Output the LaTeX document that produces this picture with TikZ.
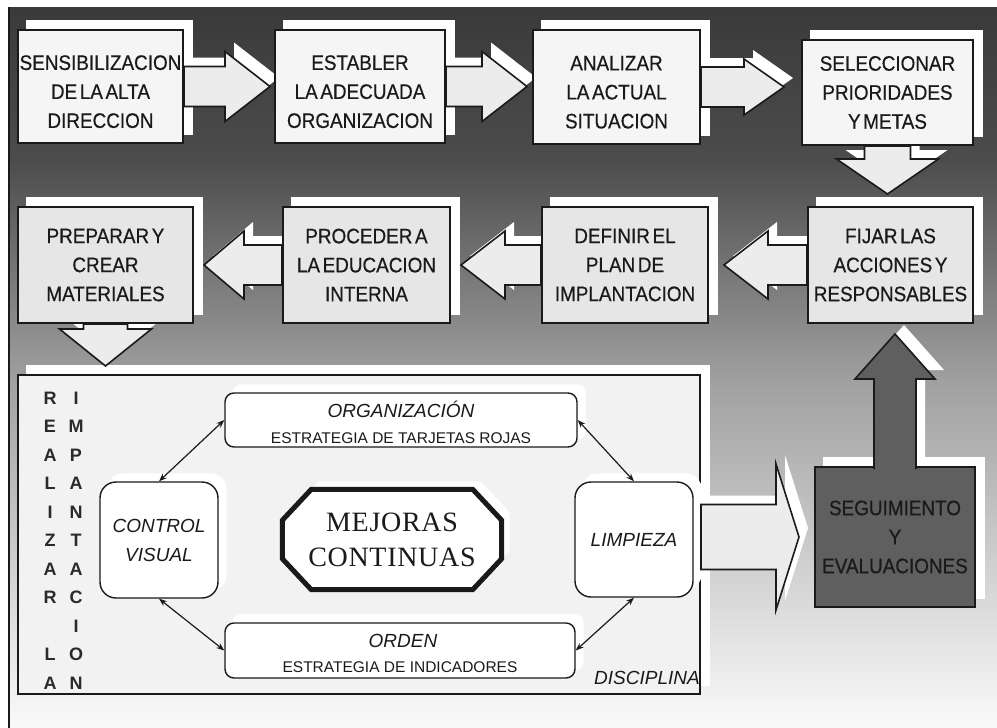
\documentclass[tikz,border=0pt]{standalone}
\usepackage{fontspec}
\setmainfont{Liberation Sans}
\newfontfamily\boxfont[FakeStretch=0.9,FakeBold=0.5,WordSpace=0.5]{Liberation Sans}
\newfontfamily\serfont[LetterSpace=2.5]{Liberation Serif}
\usetikzlibrary{calc,arrows.meta}

\pgfdeclarelayer{back}
\pgfdeclarelayer{shade}
\pgfdeclarelayer{panel}
\pgfdeclarelayer{halo}
\pgfsetlayers{back,shade,panel,halo,main}

\definecolor{ink}{HTML}{1A1A1A}
\definecolor{bgA}{HTML}{3A3A3A}
\definecolor{bgB}{HTML}{4C4C4C}
\definecolor{bgC}{HTML}{A0A0A0}
\definecolor{bgD}{HTML}{FAFAFA}
\definecolor{topfill}{HTML}{F5F5F5}
\definecolor{midfill}{HTML}{E6E6E6}
\definecolor{arrfill}{HTML}{ECECEC}
\definecolor{panelfill}{HTML}{F2F2F2}
\definecolor{darkfill}{HTML}{5F5F5F}
\definecolor{vink}{HTML}{2A2A2A}

% raises the first line so a three-line label sits a little lower in its box
\newcommand\firstlinepad{\rule{0pt}{25pt}}

\tikzset{
  topbox/.style={draw=ink, line width=2pt, fill=topfill, inner sep=0pt, align=center,
    text=ink, font=\boxfont\fontsize{21pt}{29pt}\selectfont},
  midbox/.style={topbox, fill=midfill},
  darkbox/.style={topbox, fill=darkfill},
  panelbox/.style={draw=ink, line width=2pt, fill=panelfill, inner sep=0pt},
  innerbox/.style={draw=ink, line width=1.4pt, fill=white, rounded corners=9pt, inner sep=0pt,
    align=center, text=ink, font=\fontsize{19pt}{29pt}\selectfont\itshape},
  itlabel/.style={anchor=base, inner sep=0pt, text=ink, font=\fontsize{19pt}{19pt}\selectfont\itshape},
  sublabel/.style={anchor=base, inner sep=0pt, text=ink, font=\fontsize{15.5pt}{15.5pt}\selectfont},
  vlet/.style={inner sep=0pt, text=vink, font=\fontsize{18pt}{18pt}\selectfont\bfseries},
  lightarrow/.style={draw=ink, line width=1.6pt, fill=arrfill, line join=miter},
  darkarrow/.style={draw=ink, line width=1.6pt, fill=darkfill, line join=miter},
  arrowshadow/.style={fill=white, draw=none, transform canvas={shift={(9pt,9pt)}}},
  conn/.style={draw=ink, line width=1.2pt, >={Stealth[length=8pt,width=6pt]}, <->},
}

% block arrow: style, start, tip, half shaft, half head, head length, closing
\newcommand\blockarrow[7]{%
  \coordinate (ba s) at #2;
  \coordinate (ba t) at #3;
  \coordinate (ba h) at ($(ba t)!#6!(ba s)$);
  \path[#1] ($(ba s)!#4!90:(ba t)$) -- ($(ba h)!#4!90:(ba t)$) -- ($(ba h)!#5!90:(ba t)$)
    -- (ba t) -- ($(ba h)!#5!-90:(ba t)$) -- ($(ba h)!#4!-90:(ba t)$)
    -- ($(ba s)!#4!-90:(ba t)$) #7;%
}

% every block arrow of the flow
\newcommand\allarrows[3]{%
  \blockarrow{#1}{(b1.east)}{($(b1.east -| b2.west)+(-4,0)$)}{20pt}{35pt}{45pt}{#3}%
  \blockarrow{#1}{(b2.east)}{($(b2.east -| b3.west)+(-5,0)$)}{20pt}{35pt}{45pt}{#3}%
  \blockarrow{#1}{(b3.east)}{($(b3.east -| b4.west)+(-17,0)$)}{20pt}{28pt}{40pt}{#3}%
  \blockarrow{#1}{(b4.south)}{($(b4.south |- b8.north)+(0,-12)$)}{23pt}{51pt}{35pt}{#3}%
  \blockarrow{#1}{(b8.west)}{($(b8.west -| b7.east)+(15,0)$)}{20pt}{34pt}{44pt}{#3}%
  \blockarrow{#1}{(b7.west)}{($(b7.west -| b6.east)+(10,0)$)}{20pt}{34pt}{44pt}{#3}%
  \blockarrow{#1}{(b6.west)}{($(b6.west -| b5.east)+(10,0)$)}{20pt}{34pt}{40pt}{#3}%
  \blockarrow{#1}{(b5.south)}{($(b5.south |- panel.north)+(0,-8)$)}{22pt}{46pt}{37pt}{#3}%
  \blockarrow{#1}{(panel.east |- seg.west)}{($(seg.west)+(-15,0)$)}{32.5pt}{73pt}{23pt}{#3}%
  \blockarrow{#2}{($(seg.north)+(0,3)$)}{($(seg.north |- b8.south)+(0,10)$)}{21pt}{40pt}{45pt}{}%
}

% white offset shadow behind a box
\newcommand\dropshadow[2][]{%
  \fill[white,#1] ($(#2.south west)+(9,-9)$) rectangle ($(#2.north east)+(9,-9)$);}

% chamfered outline around the central node
\newcommand\octagon[2]{%
  \path[#1] ($(mc.north west)+(29,0)+#2$) -- ($(mc.north east)+(-29,0)+#2$)
    -- ($(mc.north east)+(0,31)+#2$) -- ($(mc.south east)+(0,-31)+#2$)
    -- ($(mc.south east)+(-29,0)+#2$) -- ($(mc.south west)+(29,0)+#2$)
    -- ($(mc.south west)+(0,-31)+#2$) -- ($(mc.north west)+(0,31)+#2$) -- cycle;}

\begin{document}
\begin{tikzpicture}[x=1pt,y=-1pt]
\useasboundingbox (0,0) rectangle (997,728);

\begin{pgfonlayer}{back}
  \fill[white] (0,0) rectangle (997,728);
  \shade[top color=bgA,bottom color=bgB] (8,7) rectangle (997,161);
  \shade[top color=bgB,bottom color=bgC] (8,160) rectangle (997,381);
  \shade[top color=bgC,bottom color=bgD] (8,380) rectangle (997,728);
  \draw[ink,line width=2pt] (9,7) -- (9,728);
\end{pgfonlayer}

% first row of steps
\node[topbox,minimum width=165pt,minimum height=113pt] (b1) at (100.5,86.5) {\firstlinepad SENSIBILIZACION\\DE LA ALTA\\DIRECCION};
\node[topbox,minimum width=170pt,minimum height=113pt] (b2) at (360,86.5) {\firstlinepad ESTABLER\\LA ADECUADA\\ORGANIZACION};
\node[topbox,minimum width=167pt,minimum height=114pt] (b3) at (616.5,87) {\firstlinepad ANALIZAR\\LA ACTUAL\\SITUACION};
\node[topbox,minimum width=171pt,minimum height=105pt] (b4) at (887.5,92.5) {SELECCIONAR\\PRIORIDADES\\Y METAS};

% second row of steps
\node[midbox,minimum width=175pt,minimum height=116pt] (b5) at (105.5,265) {PREPARAR Y\\CREAR\\MATERIALES};
\node[midbox,minimum width=167pt,minimum height=116pt] (b6) at (366.5,265) {PROCEDER A\\LA EDUCACION\\INTERNA};
\node[midbox,minimum width=166pt,minimum height=116pt] (b7) at (625,265) {DEFINIR EL\\PLAN DE\\IMPLANTACION};
\node[midbox,minimum width=165pt,minimum height=116pt] (b8) at (890.5,265) {FIJAR LAS\\ACCIONES Y\\RESPONSABLES};

% follow-up step
\node[darkbox,minimum width=160pt,minimum height=140pt] (seg) at (895,537) {SEGUIMIENTO\\Y\\EVALUACIONES};

% implementation panel
\begin{pgfonlayer}{panel}
  \node[panelbox,minimum width=682pt,minimum height=319pt] (panel) at (359,534.5) {};
\end{pgfonlayer}

\foreach \c/\r in {R/0,E/1,A/2,L/3,I/4,Z/5,A/6,R/7,L/9,A/10}
  \node[vlet] (ra\r) at (50,{398+28.5*\r}) {\c};
\foreach \c/\r in {I/0,M/1,P/2,A/3,N/4,T/5,A/6,C/7,I/8,O/9,N/10}
  \node[vlet] (im\r) at (76,{398+28.5*\r}) {\c};

\node[innerbox,minimum width=352pt,minimum height=54pt] (org) at (401,420) {};
\node[itlabel] (orgt) at (401,417) {ORGANIZACIÓN};
\node[sublabel] (orgs) at (401,443.5) {ESTRATEGIA DE TARJETAS ROJAS};

\node[innerbox,minimum width=350pt,minimum height=55pt] (ord) at (400,650.5) {};
\node[itlabel] (ordt) at (403,647) {ORDEN};
\node[sublabel] (ords) at (400,672.5) {ESTRATEGIA DE INDICADORES};

\node[innerbox,rounded corners=16pt,minimum width=118pt,minimum height=116pt] (cv) at (159,540) {CONTROL\\VISUAL};
\node[innerbox,rounded corners=16pt,minimum width=118pt,minimum height=115pt] (lim) at (634,539.5) {LIMPIEZA};

\node[inner sep=0pt,minimum width=219pt,minimum height=100pt,align=center,text=ink,
  font=\serfont\fontsize{28pt}{35pt}\selectfont] (mc) at (392,539.5) {MEJORAS\\CONTINUAS};

\node[itlabel,anchor=base east] (disc) at (700,684) {DISCIPLINA};

\draw[conn] (cv.north) -- (org.west);
\draw[conn] (cv.south) -- (ord.west);
\draw[conn] (lim.north) -- (org.east);
\draw[conn] (lim.south) -- (ord.east);

% halos and central outline
\begin{pgfonlayer}{halo}
  \fill[white,rounded corners=9pt] ($(org.south west)+(8,-8)$) rectangle ($(org.north east)+(8,-8)$);
  \fill[white,rounded corners=9pt] ($(ord.south west)+(8,-8)$) rectangle ($(ord.north east)+(8,-8)$);
  \fill[white,rounded corners=16pt] ($(cv.south west)+(8,-8)$) rectangle ($(cv.north east)+(8,-8)$);
  \fill[white,rounded corners=16pt] ($(lim.south west)+(8,-8)$) rectangle ($(lim.north east)+(8,-8)$);
  \octagon{fill=white}{(8,-8)}
  \octagon{fill=white,draw=ink,line width=5pt,line join=miter}{(0,0)}
\end{pgfonlayer}

% shadows of boxes and arrows
\begin{pgfonlayer}{shade}
  \dropshadow{b1}\dropshadow{b2}\dropshadow{b3}\dropshadow{b4}
  \dropshadow{b5}\dropshadow{b6}\dropshadow{b7}\dropshadow{b8}
  \dropshadow{seg}\dropshadow{panel}
  \allarrows{arrowshadow}{arrowshadow}{-- cycle}
\end{pgfonlayer}

% block arrows
\allarrows{lightarrow}{darkarrow}{-- cycle}

\end{tikzpicture}
\end{document}
